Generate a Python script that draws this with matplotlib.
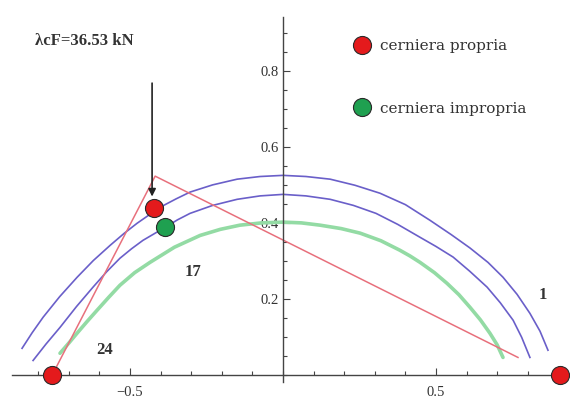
import matplotlib.pyplot as plt
from matplotlib.ticker import FixedLocator, MultipleLocator

# arcs
outer_x = [-0.853, -0.820, -0.784, -0.730, -0.673, -0.620, -0.565, -0.520, -0.477,
           -0.402, -0.350, -0.304, -0.230, -0.150, -0.075, 0.000,
           0.075, 0.154, 0.235, 0.317, 0.400, 0.480, 0.550, 0.611, 0.670,
           0.719, 0.765, 0.807, 0.840, 0.866]
outer_y = [0.071, 0.112, 0.153, 0.207, 0.258, 0.302, 0.342, 0.373, 0.400,
           0.442, 0.464, 0.482, 0.501, 0.516, 0.523, 0.526,
           0.523, 0.516, 0.500, 0.479, 0.449, 0.408, 0.370, 0.335, 0.297,
           0.258, 0.213, 0.163, 0.116, 0.066]

inner_x = [-0.817, -0.775, -0.729, -0.675, -0.621, -0.577, -0.533, -0.495, -0.458,
           -0.386, -0.345, -0.304, -0.230, -0.150, -0.075, 0.000,
           0.075, 0.154, 0.230, 0.304, 0.375, 0.448, 0.500, 0.556, 0.610,
           0.667, 0.710, 0.752, 0.780, 0.807]
inner_y = [0.039, 0.082, 0.126, 0.181, 0.232, 0.272, 0.308, 0.333, 0.355,
           0.389, 0.409, 0.426, 0.447, 0.463, 0.472, 0.476,
           0.472, 0.463, 0.447, 0.426, 0.397, 0.363, 0.339, 0.311, 0.274,
           0.232, 0.191, 0.145, 0.100, 0.047]

green_x = [-0.729, -0.700, -0.673, -0.640, -0.608, -0.570, -0.533, -0.485, -0.435,
           -0.355, -0.271, -0.205, -0.141, -0.070, 0.000,
           0.060, 0.121, 0.190, 0.252, 0.320, 0.382, 0.415, 0.448, 0.495,
           0.536, 0.575, 0.611, 0.645, 0.676, 0.700, 0.719]
green_y = [0.058, 0.085, 0.111, 0.142, 0.171, 0.205, 0.237, 0.270, 0.297,
           0.337, 0.368, 0.384, 0.395, 0.401, 0.403,
           0.401, 0.395, 0.386, 0.374, 0.354, 0.329, 0.314, 0.297, 0.270,
           0.242, 0.212, 0.179, 0.146, 0.111, 0.080, 0.047]

# red mechanism line
mech_x = [-0.755, -0.418, 0.768]
mech_y = [0.000, 0.524, 0.047]

# hinges
proper_x = [-0.755, 0.905, -0.422]
proper_y = [0.000, 0.000, 0.439]
improper_x = [-0.386]
improper_y = [0.389]

# load arrow
load_x = -0.428
load_top = 0.776
load_tip = 0.463

# block numbers
blk_labels = ['24', '17', '1']
blk_x = [-0.582, -0.294, 0.850]
blk_y = [0.066, 0.271, 0.211]

fig = plt.figure(figsize=(5.7, 4.01), dpi=100)
ax = fig.add_axes([0.021, 0.047, 0.979, 0.910])
ax.set_xlim(-0.886, 0.938)
ax.set_ylim(-0.018, 0.942)

for s in ['top', 'right']:
    ax.spines[s].set_visible(False)
ax.spines['left'].set_position(('data', 0))
ax.spines['bottom'].set_position(('data', 0))
for s in ['left', 'bottom']:
    ax.spines[s].set_color('#444444')
    ax.spines[s].set_linewidth(1.0)

ax.xaxis.set_major_locator(FixedLocator([-0.5, 0.5]))
ax.xaxis.set_minor_locator(MultipleLocator(0.1))
ax.yaxis.set_major_locator(FixedLocator([0.2, 0.4, 0.6, 0.8]))
ax.yaxis.set_minor_locator(MultipleLocator(0.05))
ax.tick_params(which='both', direction='in', color='#444444', width=0.8)
ax.tick_params(which='major', length=5)
ax.tick_params(which='minor', length=3)
ax.tick_params(axis='x', pad=8)
ax.tick_params(axis='y', pad=3)
for lab in ax.get_xticklabels() + ax.get_yticklabels():
    lab.set_fontfamily('Liberation Serif')
    lab.set_fontsize(10.5)
    lab.set_color('#333333')

ax.plot(green_x, green_y, color='#93dba4', lw=2.6, solid_capstyle='round')
ax.plot(outer_x, outer_y, color='#6a5fc9', lw=1.2)
ax.plot(inner_x, inner_y, color='#6a5fc9', lw=1.2)
ax.plot(mech_x, mech_y, color='#e8707c', lw=1.1)

ax.annotate('', xy=(load_x, load_tip), xytext=(load_x, load_top),
            arrowprops=dict(arrowstyle='-|>', color='#222222', lw=1.2,
                            mutation_scale=11))

h1, = ax.plot(proper_x, proper_y, 'o', ms=13, mfc='#e41a1c', mec='#2a2a2a',
              mew=0.8, clip_on=False, zorder=5, label='cerniera propria')
h2, = ax.plot(improper_x, improper_y, 'o', ms=13, mfc='#1fa050', mec='#2a2a2a',
              mew=0.8, clip_on=False, zorder=5, label='cerniera impropria')

for t, x, y in zip(blk_labels, blk_x, blk_y):
    ax.text(x, y, t, ha='center', va='center', fontsize=12, fontweight='bold',
            family='Liberation Serif', color='#333333')

fig.text(0.061, 0.898, 'λcF=36.53 kN', ha='left', va='center',
         fontsize=12, fontweight='bold', family='Liberation Serif',
         color='#333333')

fig.legend(handles=[h1, h2], loc='upper left', bbox_to_anchor=(0.622, 0.903),
           bbox_transform=fig.transFigure, frameon=False, borderpad=0,
           borderaxespad=0, handlelength=1.0, handletextpad=0.65,
           labelspacing=3.2, prop={'family': 'DejaVu Serif', 'size': 11},
           labelcolor='#333333')

fig.savefig('out.png', dpi=100)
